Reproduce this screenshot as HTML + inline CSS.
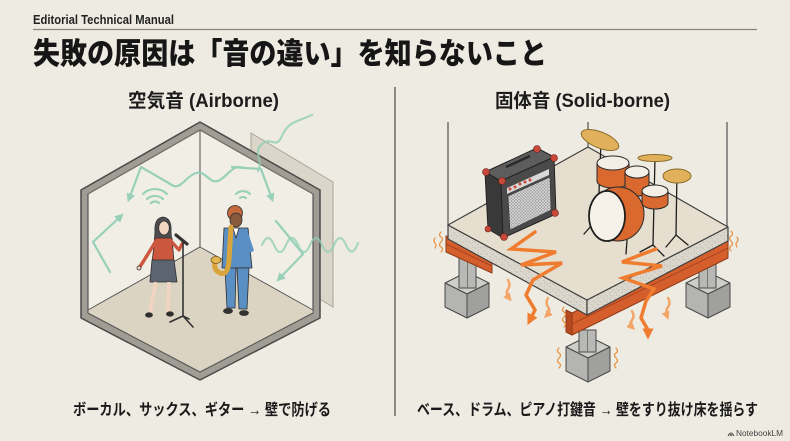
<!DOCTYPE html>
<html>
<head>
<meta charset="utf-8">
<style>
  html,body{margin:0;padding:0;background:#eeebe2;}
  body{width:790px;height:441px;overflow:hidden;}
  svg{display:block;}
  .jp{font-family:"Liberation Sans","Noto Sans CJK JP",sans-serif;}
</style>
</head>
<body>
<svg width="790" height="441" viewBox="0 0 790 441" xmlns="http://www.w3.org/2000/svg">
  <defs>
    <marker id="ga" viewBox="0 0 10 10" refX="6" refY="5" markerWidth="4" markerHeight="4" orient="auto-start-reverse">
      <path d="M0,0 L10,5 L0,10 Z" fill="#8fcdb4"/>
    </marker>
    <marker id="oa" viewBox="0 0 10 10" refX="5" refY="5" markerWidth="3.2" markerHeight="3.2" orient="auto">
      <path d="M0,0 L10,5 L0,10 Z" fill="#ef7c2f"/>
    </marker>
    <marker id="la" viewBox="0 0 10 10" refX="5" refY="5" markerWidth="3.5" markerHeight="3.5" orient="auto">
      <path d="M0,0 L10,5 L0,10 Z" fill="#f3a466"/>
    </marker>
    <pattern id="grill" width="3" height="3" patternUnits="userSpaceOnUse">
      <rect width="3" height="3" fill="#9a9a9a"/>
      <path d="M0,0 L3,3 M3,0 L0,3" stroke="#dcdcdc" stroke-width="0.7"/>
    </pattern>
    <pattern id="speck" width="6" height="6" patternUnits="userSpaceOnUse">
      <rect width="6" height="6" fill="#dcd7cc"/>
      <circle cx="1" cy="2" r="0.5" fill="#9d978b"/>
      <circle cx="4" cy="4.5" r="0.45" fill="#a9a397"/>
      <circle cx="4.5" cy="1" r="0.35" fill="#8c877c"/>
    </pattern>
  </defs>

  <rect x="0" y="0" width="790" height="441" fill="#eeebe2"/>

  <!-- Header -->
  <text class="jp" x="33" y="24" font-size="12.5" font-weight="700" fill="#222" textLength="141" lengthAdjust="spacingAndGlyphs">Editorial Technical Manual</text>
  <line x1="33" y1="29.5" x2="757" y2="29.5" stroke="#8a8578" stroke-width="1.3"/>
  <text class="jp" x="33" y="64" font-size="30" font-weight="900" fill="#161616" textLength="514" lengthAdjust="spacingAndGlyphs">失敗の原因は「音の違い」を知らないこと</text>

  <!-- Divider -->
  <line x1="395" y1="87" x2="395" y2="416" stroke="#6f6a60" stroke-width="1.5"/>

  <!-- Sub headings -->
  <text class="jp" x="128" y="107" font-size="19" font-weight="700" fill="#1c1c1c" textLength="151" lengthAdjust="spacingAndGlyphs">空気音 (Airborne)</text>
  <text class="jp" x="495" y="107" font-size="19" font-weight="700" fill="#1c1c1c" textLength="175" lengthAdjust="spacingAndGlyphs">固体音 (Solid-borne)</text>

  <!-- ================= LEFT: Room ================= -->
  <!-- glass panel behind wall -->
  <polygon points="251,133 333,182 333,307 251,258" fill="#dcd6ca" stroke="#aaa497" stroke-width="1"/>
  <!-- outer wall band -->
  <polygon points="200,122 320,190 320,318 200,380 81,318 81,190" fill="#a19d95" stroke="#4a4a4a" stroke-width="1.5" stroke-linejoin="round"/>
  <!-- inner -->
  <polygon points="200,130 313,194 313,313 200,372 88,313 88,194" fill="#f1eee6" stroke="#4a4a4a" stroke-width="1.1"/>
  <!-- floor -->
  <polygon points="200,247 313,310 313,313 200,372 88,313 88,310" fill="#dcd4c3" stroke="#5a5a5a" stroke-width="1"/>
  <line x1="200" y1="130" x2="200" y2="247" stroke="#6a6a6a" stroke-width="1.2"/>
  <!-- inner shading of wall band -->
  <polyline points="88,194 200,130 313,194" fill="none" stroke="#777269" stroke-width="1"/>

  <!-- green sound waves -->
  <g fill="none" stroke="#8fcdb4" stroke-width="2.2" stroke-linecap="round" stroke-linejoin="round" opacity="0.9">
    <path d="M172,185 L141,167 L129,199" marker-end="url(#ga)"/>
    <path d="M172,185 C180,191 186,176 196,173 S210,186 220,180 S232,164 244,168" />
    <path d="M232,167 L261,169 L272,199" marker-end="url(#ga)"/>
    <path d="M110,272 L93,242 L121,216" marker-end="url(#ga)"/>
    <path d="M258,171 C264,160 252,152 262,144 S276,150 282,136 S296,122 312,115" opacity="0.85"/>
    <path d="M262,245 q6,-14 12,0 t12,0 t12,0 t12,0 t12,0 t12,0 t12,0 t12,-2" opacity="0.8"/>
    <path d="M276,221 L303,254"/>
    <path d="M303,254 L279,279" marker-end="url(#ga)"/>
    <!-- arcs near singer -->
    <path d="M147,199 A12,12 0 0 1 163,199"/>
    <path d="M143,194 A17,17 0 0 1 167,194"/>
    <path d="M151,203 A6,6 0 0 1 159,203"/>
    <!-- arcs near sax -->
    <path d="M236,194 A10,10 0 0 1 250,194"/>
    <path d="M240,198 A5,5 0 0 1 246,198"/>
  </g>

  <!-- Singer -->
  <g stroke="#2e2e2e" stroke-width="0.8" stroke-linejoin="round">
    <path d="M155,232 Q154,218 163,217 Q172,218 171,232 L172,246 L154,246 Z" fill="#4d4d4f"/>
    <ellipse cx="164" cy="228" rx="5.3" ry="7" fill="#f2d4c1"/>
    <polygon points="155,238 172,238 174,262 152,262" fill="#cc573f"/>
    <path d="M156,241 L143,262 L139,268" fill="none" stroke="#cc573f" stroke-width="3.5" stroke-linecap="round"/>
    <circle cx="139" cy="268" r="2" fill="#f2d4c1"/>
    <path d="M171,241 L179,250 L183,242" fill="none" stroke="#cc573f" stroke-width="3.2" stroke-linecap="round"/>
    <polygon points="152,260 174,260 177,282 150,282" fill="#5b6470"/>
    <line x1="156" y1="282" x2="150" y2="312" stroke="#f2d4c1" stroke-width="3.6"/>
    <line x1="169" y1="282" x2="168" y2="311" stroke="#f2d4c1" stroke-width="3.6"/>
    <ellipse cx="149" cy="315" rx="3.5" ry="2.2" fill="#2e2e2e"/>
    <ellipse cx="170" cy="314" rx="3.5" ry="2.2" fill="#2e2e2e"/>
  </g>
  <!-- mic stand -->
  <g stroke="#333" stroke-linecap="round" fill="none">
    <line x1="183" y1="243" x2="183" y2="316" stroke-width="1.6"/>
    <line x1="183" y1="316" x2="170" y2="322" stroke-width="1.6"/>
    <line x1="183" y1="316" x2="193" y2="327" stroke-width="1.6"/>
    <line x1="183" y1="316" x2="189" y2="319" stroke-width="1.6"/>
    <line x1="176" y1="235" x2="187" y2="244" stroke-width="3.2"/>
  </g>

  <!-- Sax player -->
  <g stroke="#2e2e2e" stroke-width="0.8" stroke-linejoin="round">
    <circle cx="235" cy="213" r="7.5" fill="#c4693c"/>
    <ellipse cx="236" cy="220" rx="6" ry="7" fill="#8a5a3e"/>
    <polygon points="224,228 248,228 252,268 222,268" fill="#5a8fc4"/>
    <polygon points="233,228 239,228 236,238" fill="#ffffff"/>
    <polygon points="225,268 236,268 235,308 227,308" fill="#5a8fc4"/>
    <polygon points="237,268 249,268 247,309 239,309" fill="#5a8fc4"/>
    <ellipse cx="228" cy="311" rx="4.5" ry="2.5" fill="#333"/>
    <ellipse cx="244" cy="313" rx="4.5" ry="2.5" fill="#333"/>
    <path d="M246,232 L252,250 L238,252" fill="none" stroke="#5a8fc4" stroke-width="3.5" stroke-linecap="round"/>
  </g>
  <path d="M231,227 L229,260 Q228,276 220,273 Q213,270 215,261" fill="none" stroke="#d9a53a" stroke-width="5" stroke-linecap="round"/>
  <ellipse cx="216" cy="260" rx="5" ry="3.5" fill="#e3b650" stroke="#7a5a1a" stroke-width="0.8"/>

  <!-- ================= RIGHT: Platform ================= -->
  <g stroke="#4f4f4f" stroke-width="1.2">
    <line x1="448" y1="122" x2="448" y2="226"/>
    <line x1="588" y1="122" x2="588" y2="148"/>
    <line x1="727" y1="122" x2="727" y2="228"/>
  </g>

  <!-- piers -->
  <g stroke="#4a4a4a" stroke-width="1" stroke-linejoin="round">
    <!-- left -->
    <polygon points="445,283 467,272 489,283 467,294" fill="#cdcdcb"/>
    <polygon points="445,283 467,294 467,318 445,307" fill="#b4b4b2"/>
    <polygon points="467,294 489,283 489,307 467,318" fill="#a0a09e"/>
    <rect x="459" y="258" width="17" height="30" fill="#b8b8b6"/>
    <line x1="467.5" y1="258" x2="467.5" y2="288" stroke="#777"/>
    <!-- center -->
    <polygon points="566,347 588,336 610,347 588,358" fill="#cdcdcb"/>
    <polygon points="566,347 588,358 588,382 566,371" fill="#b4b4b2"/>
    <polygon points="588,358 610,347 610,371 588,382" fill="#a0a09e"/>
    <rect x="579" y="330" width="17" height="22" fill="#b8b8b6"/>
    <line x1="587.5" y1="330" x2="587.5" y2="352" stroke="#777"/>
    <!-- right -->
    <polygon points="686,283 708,272 730,283 708,294" fill="#cdcdcb"/>
    <polygon points="686,283 708,294 708,318 686,307" fill="#b4b4b2"/>
    <polygon points="708,294 730,283 730,307 708,318" fill="#a0a09e"/>
    <rect x="699" y="256" width="17" height="32" fill="#b8b8b6"/>
    <line x1="707.5" y1="256" x2="707.5" y2="288" stroke="#777"/>
  </g>

  <!-- beams -->
  <g stroke="#8f3a16" stroke-width="1" stroke-linejoin="round">
    <polygon points="446,236 492,259 492,273 446,252" fill="#d55f2c"/>
    <line x1="446" y1="244" x2="492" y2="266" stroke="#a8431d"/>
    <polygon points="572,313 728,238 728,258 572,335" fill="#d55f2c"/>
    <line x1="572" y1="324" x2="728" y2="248" stroke="#a8431d"/>
    <polygon points="566,310 572,313 572,335 566,332" fill="#b84a20"/>
  </g>

  <!-- slab -->
  <g stroke="#3f3f3f" stroke-width="1.2" stroke-linejoin="round">
    <polygon points="448,225 587,300 587,315 448,239" fill="url(#speck)"/>
    <polygon points="587,300 728,227 728,241 587,315" fill="url(#speck)"/>
    <polygon points="448,225 588,147 728,227 587,300" fill="#e6dfd0"/>
  </g>

  <!-- amp -->
  <g stroke="#222" stroke-width="1" stroke-linejoin="round">
    <polygon points="485,172 537,148 554,157 501,181" fill="#5d5d5d"/>
    <polygon points="485,172 501,181 503,238 488,229" fill="#393939"/>
    <polygon points="501,181 554,157 556,214 503,238" fill="#4a4a4a"/>
    <polygon points="508,196 550,177 551,210 510,230" fill="url(#grill)" stroke="#333" stroke-width="0.6"/>
    <polygon points="507,188 549,169 549,175 507,194" fill="#d8d8d8" stroke="none"/>
    <line x1="506" y1="167" x2="530" y2="156" stroke="#2a2a2a" stroke-width="2.5"/>
  </g>
  <g fill="#c8483a">
    <circle cx="510" cy="189" r="1.5"/><circle cx="515" cy="187" r="1.5"/><circle cx="520" cy="184" r="1.5"/>
    <circle cx="525" cy="182" r="1.5"/><circle cx="530" cy="180" r="1.5"/>
  </g>
  <g fill="#c8483a" stroke="#6a1f15" stroke-width="0.6">
    <circle cx="486" cy="172" r="3.5"/><circle cx="537" cy="149" r="3.5"/><circle cx="554" cy="158" r="3.5"/>
    <circle cx="502" cy="181" r="3.5"/><circle cx="504" cy="237" r="3.5"/><circle cx="555" cy="213" r="3.5"/>
    <circle cx="488" cy="229" r="3"/>
  </g>

  <!-- drums -->
  <g stroke="#1e1e1e" stroke-width="1.3" fill="none" stroke-linecap="round">
    <line x1="601" y1="142" x2="598" y2="218"/>
    <line x1="598" y1="218" x2="584" y2="234"/>
    <line x1="598" y1="218" x2="606" y2="236"/>
    <line x1="655" y1="158" x2="653" y2="245"/>
    <line x1="653" y1="245" x2="640" y2="252"/>
    <line x1="653" y1="245" x2="664" y2="256"/>
    <line x1="677" y1="170" x2="676" y2="235"/>
    <line x1="676" y1="235" x2="666" y2="247"/>
    <line x1="676" y1="235" x2="688" y2="245"/>
    <line x1="627" y1="240" x2="626" y2="254"/>
  </g>
  <g stroke="#2a2a2a" stroke-width="1" stroke-linejoin="round">
    <!-- toms -->
    <path d="M597,163 L597,181 A16,7 0 0 0 629,181 L629,163 Z" fill="#d9692f"/>
    <ellipse cx="613" cy="163" rx="16" ry="7" fill="#f4efe6"/>
    <path d="M625,172 L625,190 A12,6 0 0 0 649,190 L649,172 Z" fill="#d9692f"/>
    <ellipse cx="637" cy="172" rx="12" ry="6" fill="#f4efe6"/>
    <path d="M642,191 L642,203 A13,6 0 0 0 668,203 L668,191 Z" fill="#d9692f"/>
    <ellipse cx="655" cy="191" rx="13" ry="6" fill="#f4efe6"/>
    <!-- bass drum -->
    <ellipse cx="618" cy="214" rx="26" ry="27" fill="#d9692f"/>
    <ellipse cx="607" cy="216" rx="18" ry="25" fill="#f6f2ea" stroke="#1e1e1e" stroke-width="1.8"/>
    <!-- cymbals -->
    <ellipse cx="600" cy="140" rx="20" ry="8" transform="rotate(22 600 140)" fill="#e0b15a" stroke="#8a6a2a"/>
    <ellipse cx="655" cy="158" rx="17" ry="3.5" fill="#e0b15a" stroke="#8a6a2a"/>
    <ellipse cx="677" cy="176" rx="14" ry="7" fill="#e0b15a" stroke="#8a6a2a"/>
  </g>

  <!-- lightning bolts -->
  <g fill="none" stroke="#ef7c2f" stroke-width="3.5" stroke-linejoin="miter" stroke-linecap="round">
    <polyline points="535,232 511,249 556,252 521,265 562,263 533,280 526,295 535,310 530,320" marker-end="url(#oa)"/>
    <polyline points="656,249 622,262 662,266 623,278 654,289 646,301 641,318 648,330 648,334" marker-end="url(#oa)"/>
  </g>
  <g fill="none" stroke="#f3a466" stroke-width="2.4" stroke-linecap="round">
    <path d="M508,280 q3,5 0,9 t1,9" marker-end="url(#la)"/>
    <path d="M548,298 q-3,5 0,9 t-1,8" marker-end="url(#la)"/>
    <path d="M632,311 q3,5 0,9 t0,7" marker-end="url(#la)"/>
    <path d="M668,298 q3,5 0,9 t-1,9" marker-end="url(#la)"/>
  </g>
  <!-- vibration squiggles -->
  <g fill="none" stroke="#e8903e" stroke-width="1.2" stroke-linecap="round">
    <path d="M441,232 q-3,3 0,5 t0,5 t0,5 t0,5"/>
    <path d="M435,238 q-2,3 0,5 t0,5"/>
    <path d="M731,231 q3,3 0,5 t0,5 t0,5 t0,5"/>
    <path d="M737,237 q2,3 0,5 t0,5"/>
    <path d="M564,307 q-3,3 0,5 t0,5 t0,5 t0,5"/>
    <path d="M559,348 q-3,3 0,5 t0,5 t0,5 t0,5"/>
    <path d="M616,348 q3,3 0,5 t0,5 t0,5 t0,5"/>
  </g>

  <!-- Captions -->
  <text class="jp" x="73" y="415" font-size="16" font-weight="700" fill="#1a1a1a" textLength="258" lengthAdjust="spacingAndGlyphs">ボーカル、サックス、ギター → 壁で防げる</text>
  <text class="jp" x="417" y="415" font-size="16" font-weight="700" fill="#1a1a1a" textLength="341" lengthAdjust="spacingAndGlyphs">ベース、ドラム、ピアノ打鍵音 → 壁をすり抜け床を揺らす</text>

  <!-- NotebookLM mark -->
  <g fill="none" stroke="#444" stroke-width="0.9">
    <path d="M728,436 q3,-6 6,0 M730,436 q1,-3 2,0"/>
  </g>
  <text class="jp" x="736" y="436" font-size="8" fill="#444" textLength="47" lengthAdjust="spacingAndGlyphs">NotebookLM</text>
</svg>
</body>
</html>
